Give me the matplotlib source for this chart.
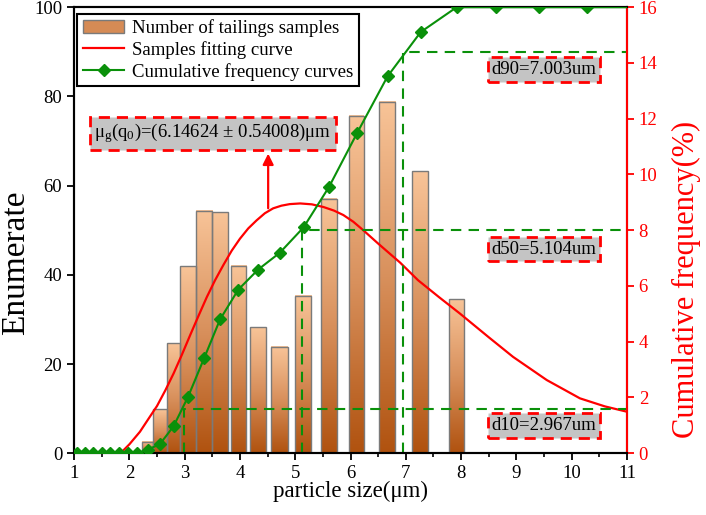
import numpy as np
import matplotlib.pyplot as plt
from matplotlib.colors import LinearSegmentedColormap
from matplotlib.patches import Rectangle, Patch
from matplotlib.lines import Line2D

plt.rcParams['font.family'] = ['Liberation Serif', 'DejaVu Serif']
plt.rcParams['mathtext.fontset'] = 'custom'
plt.rcParams['mathtext.rm'] = 'Liberation Serif'
plt.rcParams['mathtext.it'] = 'Liberation Serif'

# histogram bins (particle size, um) and counts
bin_lo = [2.22, 2.43, 2.68, 2.92, 3.20, 3.50, 3.83, 4.19, 4.57, 5.00, 5.47, 5.98, 6.52, 7.12, 7.78]
bin_hi = [2.43, 2.68, 2.92, 3.20, 3.49, 3.78, 4.11, 4.47, 4.86, 5.29, 5.75, 6.25, 6.81, 7.41, 8.06]
counts = [2.5, 9.8, 24.6, 41.9, 54.3, 54.0, 42.0, 28.2, 23.8, 35.3, 57.0, 75.6, 78.8, 63.2, 34.5]

# fitted curve
fit_x = [1.84, 2.0, 2.19, 2.35, 2.50, 2.65, 2.80, 2.95, 3.10, 3.25, 3.40, 3.55, 3.70, 3.85,
         4.00, 4.15, 4.30, 4.45, 4.60, 4.75, 4.90, 5.09, 5.30, 5.51, 5.70, 5.87, 6.05,
         6.23, 6.50, 6.90, 7.22, 7.60, 7.98, 8.50, 8.94, 9.55, 10.15, 10.60, 11.0]
fit_y = [0.0, 2.0, 4.8, 7.8, 10.6, 14.1, 17.9, 22.1, 26.5, 30.8, 35.0, 38.8, 42.2, 45.4,
         48.1, 50.4, 52.2, 53.8, 54.9, 55.5, 55.85, 56.0, 55.8, 55.2, 54.4, 53.4, 51.9,
         50.0, 47.0, 42.7, 38.8, 35.0, 31.3, 26.0, 21.6, 16.4, 12.3, 10.5, 9.3]

# cumulative frequency (right axis)
cum_x = [1.05, 1.2, 1.35, 1.5, 1.65, 1.81, 1.97, 2.14, 2.33, 2.55, 2.80, 3.06, 3.35, 3.64,
         3.97, 4.33, 4.72, 5.15, 5.61, 6.12, 6.67, 7.27, 7.92, 8.63, 9.41, 10.27, 11.0]
cum_y = [0, 0, 0, 0, 0, 0, 0, 0, 0.13, 0.32, 0.97, 2.02, 3.40, 4.80,
         5.87, 6.59, 7.19, 8.10, 9.55, 11.49, 13.52, 15.11, 16.0, 16.0, 16.0, 16.0, 16.0]

d_sizes = [2.98, 5.12, 6.95]
d_levels = [1.6, 8.0, 14.4]
d_labels = ['d10=2.967um', 'd50=5.104um', 'd90=7.003um']
d_label_y = [0.99, 7.32, 13.76]

mu_text = r'$\mathrm{μ_g(q_0)}$=(6.14624 ± 0.54008)μm'

green = '#0a900a'
fig = plt.figure(figsize=(7.06, 5.15), dpi=100)
ax = fig.add_axes([0.105, 0.120, 0.783, 0.866])

cmap = LinearSegmentedColormap.from_list('bar', ['#b0520f', '#d8905c', '#f8c498'])
grad = np.linspace(0, 1, 256).reshape(-1, 1)
for lo, hi, h in zip(bin_lo, bin_hi, counts):
    ax.imshow(grad, extent=[lo, hi, 0, h], aspect='auto', cmap=cmap,
              origin='lower', zorder=2, interpolation='bilinear')
    ax.add_patch(Rectangle((lo, 0), hi - lo, h, fill=False, ec='#7a7a7a', lw=1, zorder=3))

ax.plot(fit_x, fit_y, color='red', lw=1.6, zorder=4)
ax.annotate('', xy=(4.51, 67.8), xytext=(4.51, 54.3),
            arrowprops=dict(arrowstyle='-|>', color='red', lw=1.6, mutation_scale=16))
ax.text(3.51, 71.7, mu_text, fontsize=13.5, ha='center', va='center', zorder=6,
        bbox=dict(boxstyle='square,pad=0.25', fc='#c4c4c4', ec='red', lw=2, ls=(0, (4, 2.5))))

ax.set_xlim(1, 11)
ax.set_ylim(0, 100)
ax.set_xticks(np.arange(1, 12, 1))
ax.set_xticks(np.arange(1, 11.01, 0.5), minor=True)
ax.set_yticks(np.arange(0, 101, 20))
ax.tick_params(axis='both', which='major', direction='out', length=5, width=1.3, labelsize=13.5)
ax.tick_params(axis='x', which='minor', direction='out', length=3, width=1.2)
for s in ax.spines.values():
    s.set_linewidth(1.5)

ax2 = ax.twinx()
ax2.set_ylim(0, 16)
ax2.set_yticks(np.arange(0, 17, 2))
for d, lvl in zip(d_sizes, d_levels):
    ax2.plot([d, d, 11], [0, lvl, lvl], ls=(0, (5, 3.5)), color=green, lw=1.5, zorder=2)
ax2.plot(cum_x, cum_y, color=green, lw=1.5, marker='D', ms=6,
         markevery=list(range(len(cum_x) - 1)), zorder=5)
for lbl, yy in zip(d_labels, d_label_y):
    ax2.text(9.5, yy, lbl, fontsize=13.5, ha='center', va='center', zorder=6,
             bbox=dict(boxstyle='square,pad=0.2', fc='#c4c4c4', ec='red', lw=2, ls=(0, (4, 2.5))))

ax2.tick_params(axis='y', direction='out', length=5, width=1.3, labelsize=13.5,
                colors='red')
ax2.spines['right'].set_color('red')
for s in ax2.spines.values():
    s.set_linewidth(1.5)

handles = [Patch(facecolor='#d68b55', edgecolor='#7a7a7a'),
           Line2D([], [], color='red', lw=1.6),
           Line2D([], [], color=green, lw=1.5, marker='D', ms=6)]
labels = ['Number of tailings samples', 'Samples fitting curve', 'Cumulative frequency curves']
leg = ax2.legend(handles, labels, loc='upper left', bbox_to_anchor=(0.006, 0.985),
                 borderaxespad=0, fontsize=13.5, fancybox=False, framealpha=1,
                 edgecolor='black', handlelength=2.2, handletextpad=0.4,
                 labelspacing=0.2, borderpad=0.3)
leg.get_frame().set_linewidth(1.5)

fig.text(0.496, 0.045, 'particle size(μm)', fontsize=16.5, ha='center', va='center')
fig.text(0.022, 0.49, 'Enumerate', fontsize=24, rotation=90, ha='center', va='center')
fig.text(0.972, 0.457, 'Cumulative frequency(%)', fontsize=22, rotation=90,
         ha='center', va='center', color='red')

fig.savefig('out.png', dpi=100)
